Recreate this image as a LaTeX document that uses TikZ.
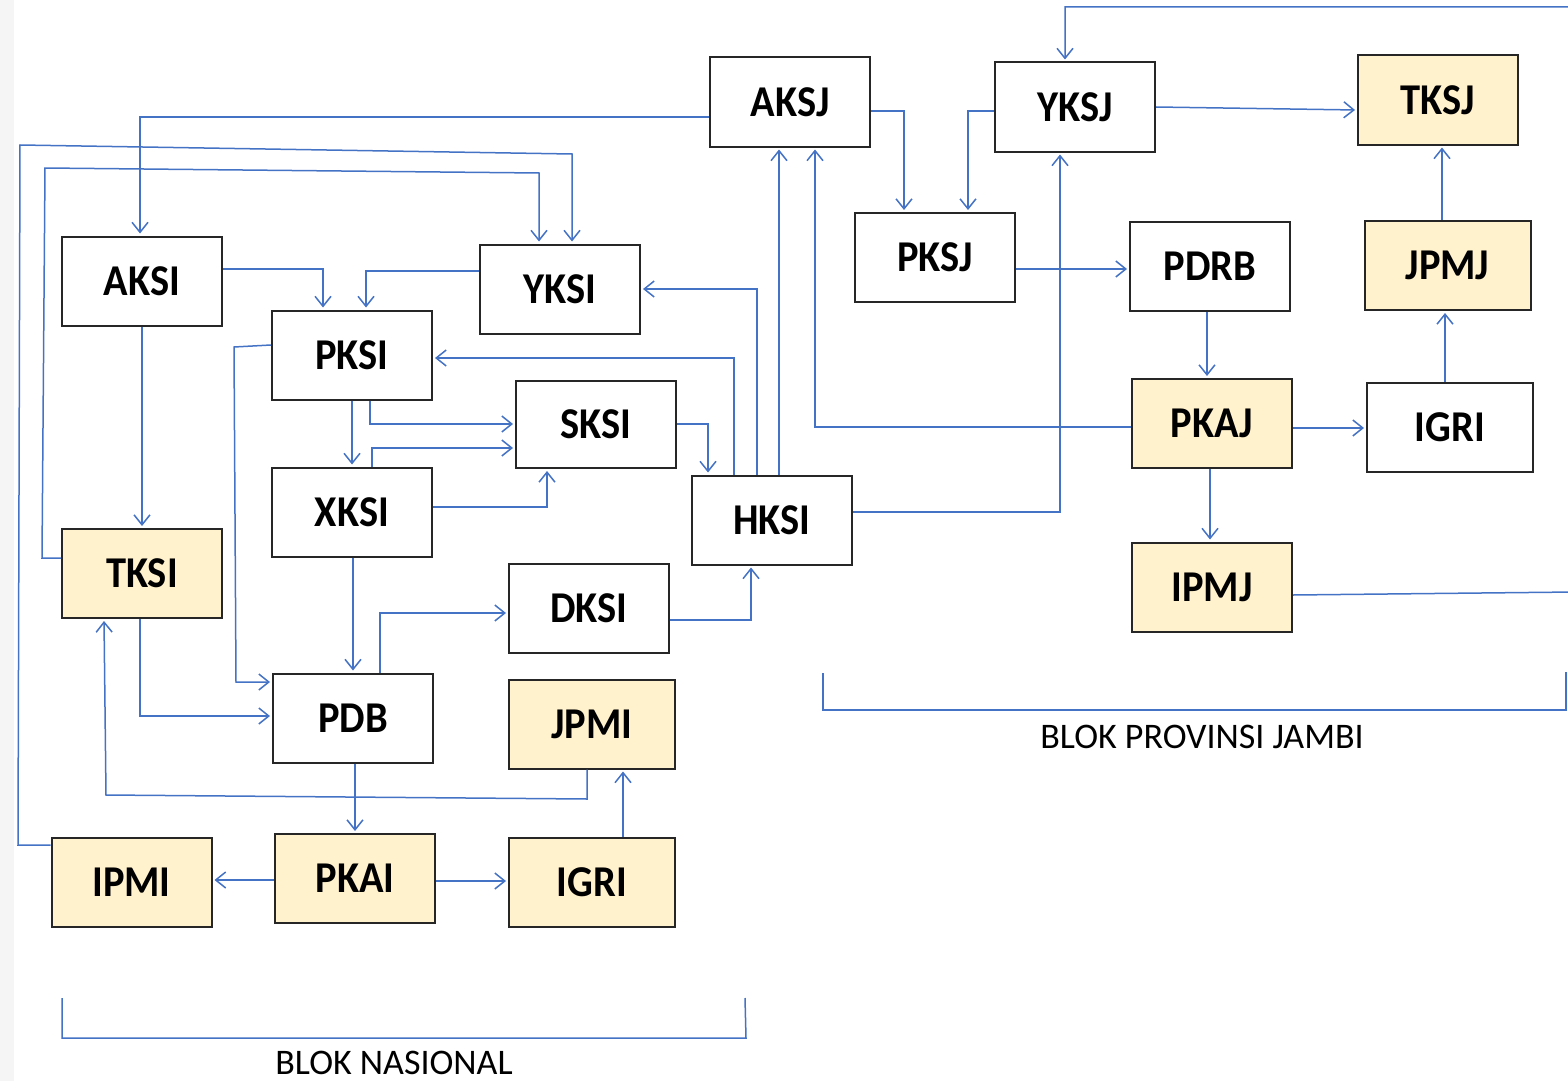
\documentclass[tikz,border=0pt]{standalone}
\usepackage{fontspec}
\setmainfont{Carlito}
\newfontfamily\boxfont[FakeStretch=0.92]{Carlito}
\usetikzlibrary{arrows.meta}
\definecolor{conn}{HTML}{4472C4}
\definecolor{cream}{HTML}{FFF2CC}
\definecolor{edgec}{HTML}{262626}
\begin{document}
\begin{tikzpicture}[x=0.5pt,y=-0.5pt,
 kbox/.style={draw=edgec, line width=1pt, minimum width=80pt, minimum height=44.5pt, inner sep=0pt, font=\boxfont\fontsize{22}{24}\selectfont\bfseries, fill=white},
 kfill/.style={kbox, fill=cream},
 wide/.style={minimum width=83pt},
 link/.style={draw=conn, line width=0.75pt, -{Straight Barb[length=5pt,width=8pt]}, shorten >=1pt},
 plain/.style={draw=conn, line width=0.75pt},
 lbl/.style={font=\fontsize{18}{20}\selectfont, inner sep=0pt}]
\useasboundingbox (0,0) rectangle (1568,1081);
\fill[gray!8] (0,0) rectangle (14,1081);
% nodes
\node[kbox] (AKSJ) at (790,102) {AKSJ};
\node[kbox] (YKSJ) at (1075,107) {YKSJ};
\node[kfill] (TKSJ) at (1438,100) {TKSJ};
\node[kbox] (AKSI) at (142,281) {AKSI};
\node[kbox] (YKSI) at (560,289) {YKSI};
\node[kbox] (PKSI) at (352,355) {PKSI};
\node[kbox, minimum height=43.5pt] (SKSI) at (596,424.5) {SKSI};
\node[kbox] (XKSI) at (352,512) {XKSI};
\node[kbox] (HKSI) at (772,520) {HKSI};
\node[kfill] (TKSI) at (142,573.5) {TKSI};
\node[kbox] (DKSI) at (589,608) {DKSI};
\node[kbox] (PDB) at (353,718) {PDB};
\node[kfill,wide] (JPMI) at (592,724) {JPMI};
\node[kfill] (IPMI) at (131.5,882) {IPMI};
\node[kfill] (PKAI) at (355,878.5) {PKAI};
\node[kfill,wide] (IGRIn) at (592,882) {IGRI};
\node[kbox] (PKSJ) at (935,257.5) {PKSJ};
\node[kbox] (PDRB) at (1210,266) {PDRB};
\node[kfill,wide] (JPMJ) at (1447.5,265.5) {JPMJ};
\node[kfill] (PKAJ) at (1212,423.5) {PKAJ};
\node[kbox,wide] (IGRIp) at (1450,427) {IGRI};
\node[kfill] (IPMJ) at (1212,587) {IPMJ};
% national block connectors
\draw[link] (AKSJ.west |- 0,117) -- (140,117) -- (140,0 |- AKSI.north);
\draw[link] (IPMI.west |- 0,845) -- (18,845) -- (20,145) -- (572,154) -- (572,0 |- YKSI.north);
\draw[link] (TKSI.west |- 0,558) -- (42,558) -- (45,168) -- (539,173) -- (539,0 |- YKSI.north);
\draw[link] (AKSI.east |- 0,269) -- (323,269) -- (323,0 |- PKSI.north);
\draw[link] (YKSI.west |- 0,271) -- (366,271) -- (366,0 |- PKSI.north);
\draw[link] (PKSI.west |- 0,345) -- (234,347) -- (236,682) -- (PDB.west |- 0,682);
\draw[link] (AKSI.south) -- (TKSI.north);
\draw[link] (PKSI.south) -- (XKSI.north);
\draw[link] (370,0 |- PKSI.south) -- (370,424) -- (SKSI.west |- 0,424);
\draw[link] (372,0 |- XKSI.north) -- (372,448) -- (SKSI.west |- 0,448);
\draw[link] (XKSI.east |- 0,507) -- (547,507) -- (547,0 |- SKSI.south);
\draw[link] (140,0 |- TKSI.south) -- (140,716) -- (PDB.west |- 0,716);
\draw[link] (587,0 |- JPMI.south) -- (587,799) -- (106,795) -- (104,0 |- TKSI.south);
\draw[link] (353,0 |- XKSI.south) -- (353,0 |- PDB.north);
\draw[link] (380,0 |- PDB.north) -- (380,613) -- (DKSI.west |- 0,613);
\draw[link] (355,0 |- PDB.south) -- (355,0 |- PKAI.north);
\draw[link] (PKAI.west |- 0,880) -- (IPMI.east |- 0,880);
\draw[link] (PKAI.east |- 0,881) -- (IGRIn.west |- 0,881);
\draw[link] (623,0 |- IGRIn.north) -- (623,0 |- JPMI.south);
\draw[link] (734,0 |- HKSI.north) -- (734,358) -- (PKSI.east |- 0,358);
\draw[link] (SKSI.east |- 0,424) -- (708,424) -- (708,0 |- HKSI.north);
\draw[link] (757,0 |- HKSI.north) -- (757,289) -- (YKSI.east |- 0,289);
\draw[link] (779,0 |- HKSI.north) -- (779,0 |- AKSJ.south);
\draw[link] (DKSI.east |- 0,620) -- (751,620) -- (751,0 |- HKSI.south);
% province block connectors
\draw[link] (PKAJ.west |- 0,427) -- (815,427) -- (815,0 |- AKSJ.south);
\draw[link] (HKSI.east |- 0,512) -- (1060,512) -- (1060,0 |- YKSJ.south);
\draw[link] (IPMJ.east |- 0,595) -- (1575,592) -- (1575,7) -- (1065,7) -- (1065,0 |- YKSJ.north);
\draw[link] (AKSJ.east |- 0,111) -- (904,111) -- (904,0 |- PKSJ.north);
\draw[link] (YKSJ.west |- 0,111) -- (968,111) -- (968,0 |- PKSJ.north);
\draw[link] (YKSJ.east |- 0,107) -- (TKSJ.west |- 0,110);
\draw[link] (1442,0 |- JPMJ.north) -- (1442,0 |- TKSJ.south);
\draw[link] (PKSJ.east |- 0,269) -- (PDRB.west |- 0,269);
\draw[link] (1207,0 |- PDRB.south) -- (1207,0 |- PKAJ.north);
\draw[link] (PKAJ.east |- 0,428) -- (IGRIp.west |- 0,428);
\draw[link] (1445,0 |- IGRIp.north) -- (1445,0 |- JPMJ.south);
\draw[link] (1210,0 |- PKAJ.south) -- (1210,0 |- IPMJ.north);
% brackets and labels
\draw[plain] (62,998) -- (62,1038) -- (746,1038) -- (745,998);
\draw[plain] (823,673) -- (823,710) -- (1566,710) -- (1566,672);
\node[lbl] (bn) at (394,1063) {BLOK NASIONAL};
\node[lbl] (bp) at (1202,737) {BLOK PROVINSI JAMBI};
\end{tikzpicture}
\end{document}
